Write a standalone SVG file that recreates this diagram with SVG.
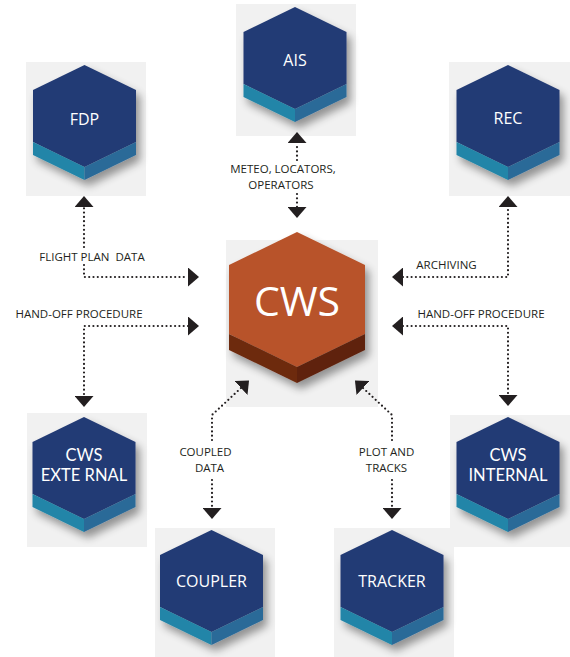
<svg xmlns="http://www.w3.org/2000/svg" width="570" height="657" viewBox="0 0 570 657">
<style>
.bg{fill:#f1f1f1}
.face{fill:#243b74}
.bl{fill:#2385a8}
.br{fill:#2c6a98}
.cface{fill:#b8532a}
.cbl{fill:#6d2a11}
.cbr{fill:#5e2410}
.nt{font-family:"Open Sans","Liberation Sans",sans-serif;fill:#ffffff;font-size:16px;text-anchor:middle}
.nt2{font-family:Lato,"Open Sans",sans-serif;font-size:16.5px}
.big{font-size:41px}
.lbl{font-family:"Open Sans","Liberation Sans",sans-serif;fill:#231f20;font-size:11.5px;text-anchor:middle}
.dot{fill:none;stroke:#231f20;stroke-width:2.2;stroke-linecap:round;stroke-dasharray:0 4.3}
</style>
<defs>
<filter id="sh" x="-30%" y="-30%" width="170%" height="170%">
<feGaussianBlur in="SourceAlpha" stdDeviation="4"/>
<feOffset dx="4" dy="6" result="b"/>
<feComponentTransfer><feFuncA type="linear" slope="0.4"/></feComponentTransfer>
<feMerge><feMergeNode/><feMergeNode in="SourceGraphic"/></feMerge>
</filter>
<marker id="arr" markerUnits="userSpaceOnUse" markerWidth="11" markerHeight="19" viewBox="0 0 11 19" refX="0" refY="9.5" orient="auto-start-reverse">
<path d="M0,0 L11,9.5 L0,19 Z" fill="#231f20"/>
</marker>
<g id="hex">
<polygon class="face" points="0,0 51.5,25 51.5,77 0,102 -51.5,77 -51.5,25"/>
<polygon class="bl" points="-51.5,77 0,102 0,115 -51.5,90"/>
<polygon class="br" points="0,102 51.5,77 51.5,90 0,115"/>
</g>
</defs>

<rect class="bg" x="236" y="4" width="120" height="132"/>
<rect class="bg" x="26" y="62" width="120" height="134"/>
<rect class="bg" x="449" y="62" width="121" height="134"/>
<rect class="bg" x="226" y="240" width="152" height="167"/>
<rect class="bg" x="27" y="413" width="120" height="134"/>
<rect class="bg" x="450" y="415" width="120" height="132"/>
<rect class="bg" x="155" y="528" width="120" height="129"/>
<rect class="bg" x="334" y="528" width="120" height="129"/>

<g id="connectors">
<path class="dot" d="M297,160 L297,143" marker-end="url(#arr)"/>
<path class="dot" d="M297,194 L297,207" marker-end="url(#arr)"/>
<path class="dot" d="M84,247 L84,207" marker-end="url(#arr)"/>
<path class="dot" d="M84,265 L84,277 L188,277" marker-end="url(#arr)"/>
<path class="dot" d="M188,326 L84,326 L84,396" marker-start="url(#arr)" marker-end="url(#arr)"/>
<path class="dot" d="M403,277 L508,277 L508,207" marker-start="url(#arr)" marker-end="url(#arr)"/>
<path class="dot" d="M403,326 L508,326 L508,395" marker-start="url(#arr)" marker-end="url(#arr)"/>
<path class="dot" d="M212,440 L212,415 L241,388" marker-end="url(#arr)"/>
<path class="dot" d="M212,480 L212,508" marker-end="url(#arr)"/>
<path class="dot" d="M392,440 L392,415 L363,388" marker-end="url(#arr)"/>
<path class="dot" d="M392,480 L392,508" marker-end="url(#arr)"/>
<text class="lbl" x="283" y="173">METEO, LOCATORS,</text>
<text class="lbl" x="281" y="189">OPERATORS</text>
<text class="lbl" x="92" y="261" xml:space="preserve">FLIGHT PLAN  DATA</text>
<text class="lbl" x="79" y="318">HAND-OFF PROCEDURE</text>
<text class="lbl" x="446.5" y="269">ARCHIVING</text>
<text class="lbl" x="481" y="318">HAND-OFF PROCEDURE</text>
<text class="lbl" x="205.5" y="456">COUPLED</text>
<text class="lbl" x="209.5" y="472">DATA</text>
<text class="lbl" x="386.5" y="456">PLOT AND</text>
<text class="lbl" x="386.5" y="472">TRACKS</text>
</g>

<g id="ais">
<use href="#hex" transform="translate(295,7)" filter="url(#sh)"/>
<text class="nt" x="295" y="66">AIS</text>
</g>
<g id="fdp">
<use href="#hex" transform="translate(84.5,65)" filter="url(#sh)"/>
<text class="nt" x="84.5" y="125">FDP</text>
</g>
<g id="rec">
<use href="#hex" transform="translate(508,65)" filter="url(#sh)"/>
<text class="nt" x="508" y="124">REC</text>
</g>
<g id="cws">
<g filter="url(#sh)">
<polygon class="cface" points="297,232 365,265 365,334 297,367 229,334 229,265"/>
<polygon class="cbl" points="229,334 297,367 297,383 229,350"/>
<polygon class="cbr" points="297,367 365,334 365,350 297,383"/>
</g>
<text class="nt big" x="297" y="316">CWS</text>
</g>
<g id="cws-external">
<use href="#hex" transform="translate(84,417)" filter="url(#sh)"/>
<text class="nt nt2" x="84" y="461">CWS</text>
<text class="nt nt2" x="84" y="481">EXTE RNAL</text>
</g>
<g id="cws-internal">
<use href="#hex" transform="translate(508,417)" filter="url(#sh)"/>
<text class="nt nt2" x="508" y="461">CWS</text>
<text class="nt nt2" x="508" y="481">INTERNAL</text>
</g>
<g id="coupler">
<use href="#hex" transform="translate(211.5,530)" filter="url(#sh)"/>
<text class="nt" x="211.5" y="587">COUPLER</text>
</g>
<g id="tracker">
<use href="#hex" transform="translate(392,530)" filter="url(#sh)"/>
<text class="nt" x="392" y="587">TRACKER</text>
</g>
</svg>
